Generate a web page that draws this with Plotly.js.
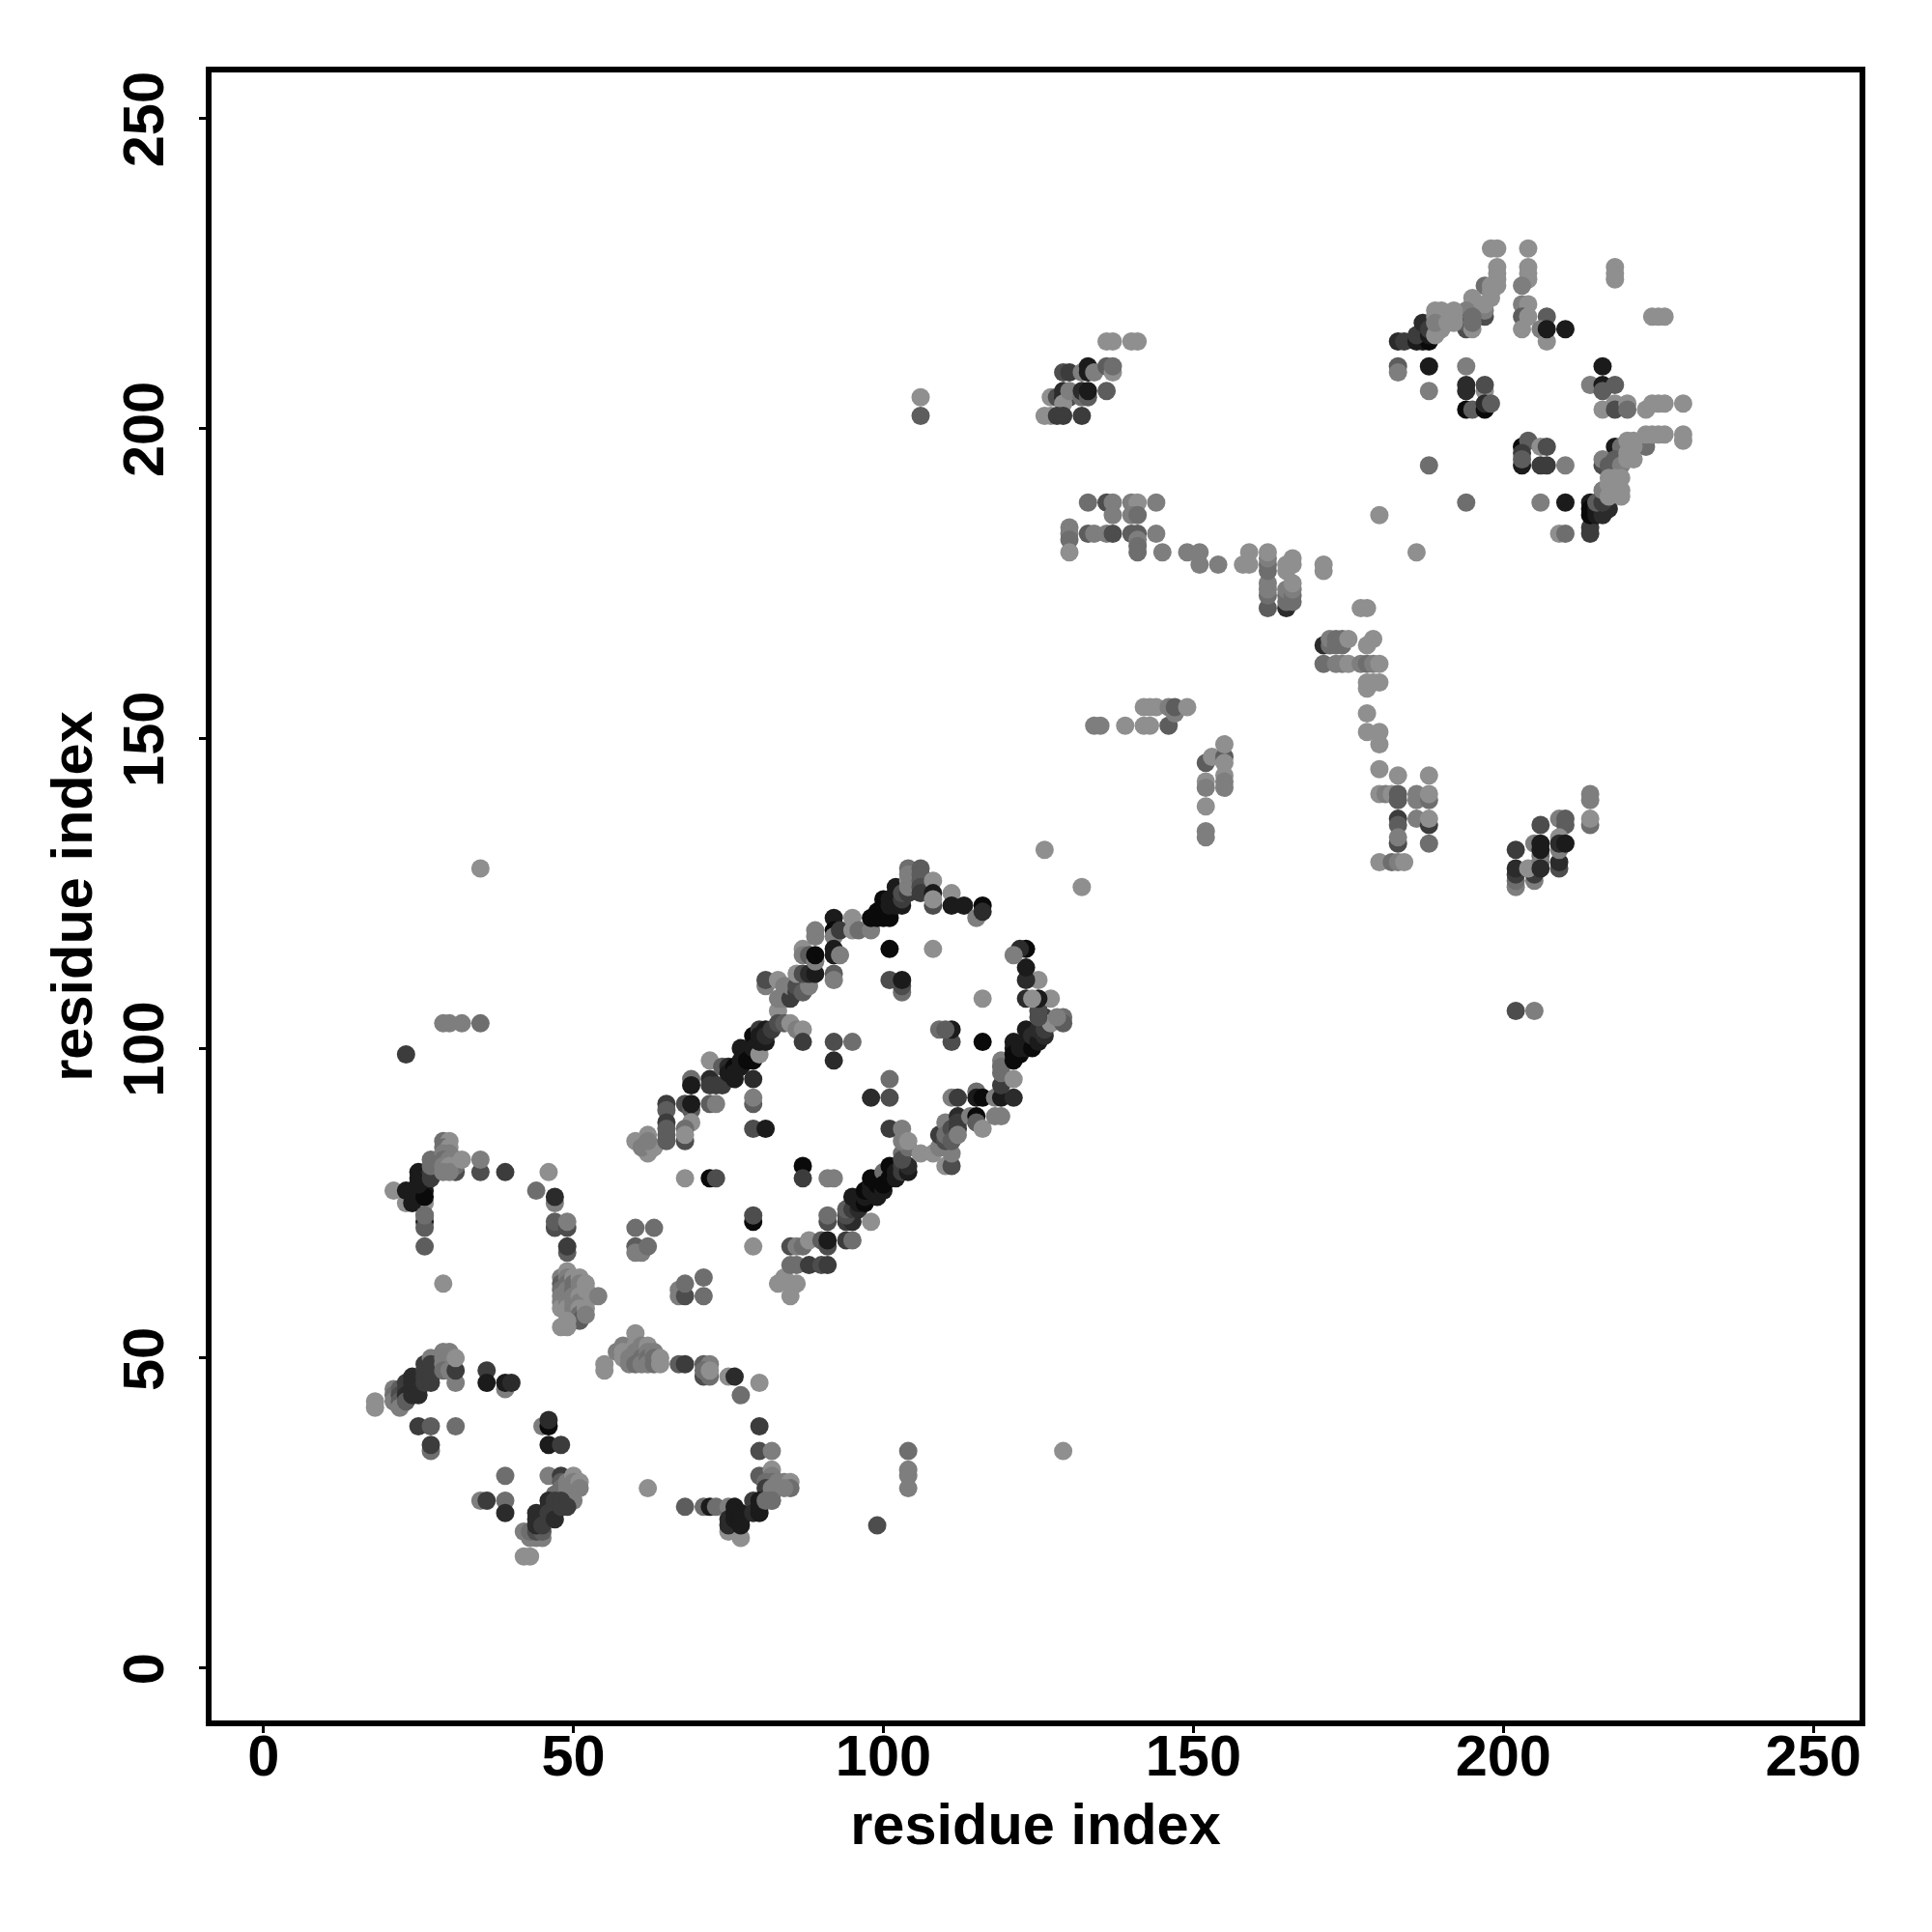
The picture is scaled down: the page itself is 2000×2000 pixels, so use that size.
<!DOCTYPE html>
<html>
<head>
<meta charset="utf-8">
<script src="https://cdn.plot.ly/plotly-3.0.1.min.js"></script>
<style>html,body{margin:0;padding:0;background:#fff}</style>
</head>
<body>
<div id="chart" style="width:2000px;height:2000px"></div>
<script>
// Each contact: [residue i, residue j, shade level 0 (darkest) .. 8 (lightest)]
const arcUpperLeft = [
[21,77,8],[23,75,8],[26,75,8],[24,75,1],[23,77,1],[24,77,1],[26,77,1],[26,76,0],[25,80,1],[25,79,1],[25,78,1],
[26,73,5],[26,72,1],[26,71,5],[26,73,6],[26,68,5],[27,79,3],[27,80,3],[27,82,6],[27,81,6],
[31,80,4],[31,81,6],[31,82,3],[29,85,6],[30,85,8],[29,84,6],[30,84,8],[29,83,7],[30,83,7],[29,82,6],[30,82,7],[29,81,7],[30,81,8],[29,80,7],[30,80,7],[32,82,8],
[35,80,4],[35,82,7],[39,80,3],[29,62,8],[46,80,8],[44,77,6],[47,75,7],[47,76,2],[47,71,4],[47,72,5],[49,71,4],[49,72,7],[49,67,5],[49,68,3]
];
const clusterFifty = [
[48,63,7],[48,62,5],[48,61,6],[48,60,7],[48,59,7],[48,58,8],[49,64,8],[49,63,7],[49,62,6],[49,61,7],[49,60,7],[49,59,7],[49,58,8],[49,57,8],[50,63,8],[50,62,6],[50,61,6],[50,60,7],[50,59,7],[50,58,7],[50,57,7],
[51,63,8],[51,62,7],[51,61,7],[51,60,8],[51,59,7],[51,58,8],[51,57,6],[51,56,5],[52,62,8],[52,61,8],[52,58,8],[52,57,7],[53,60,8],[54,60,7],[48,55,8],[49,55,8],[49,56,8]
];
const arcLowerLeft = [
[18,43,8],[18,42,8],[21,45,7],[21,44,6],[21,43,7],[22,45,5],[22,44,4],[22,43,5],[22,42,7],[23,46,3],[23,45,3],[23,44,2],[23,43,5],[24,47,2],[24,46,2],[24,45,2],[24,44,2],[25,45,2],[25,44,2],
[26,49,3],[26,48,3],[26,47,3],[26,46,3],[27,50,7],[27,49,3],[27,48,3],[27,47,3],[27,46,3],[29,51,7],[30,51,7],[29,50,7],[30,50,7],[29,49,7],[30,49,7],[29,48,6],[30,48,7],[31,46,7],[31,48,3],[31,50,8],
[36,48,3],[36,46,1],[39,45,7],[39,46,1],[40,46,2],[25,39,3],[27,39,5],[31,39,6],[27,35,6],[27,36,3],
[45,39,7],[46,39,0],[46,40,2],[46,36,1],[48,36,3],[39,31,6],[46,31,7],[48,31,3],[48,30,5],[47,28,6],[48,29,6],[49,30,7],[49,29,7],[50,31,8],[50,30,7],[50,29,7],[51,30,8],[51,29,7],[50,27,7],
[35,27,7],[36,27,3],[39,27,6],[39,25,2],[42,22,7],[42,18,8],[43,18,8],[43,21,7],[44,21,7],[45,21,7],[43,22,6],[44,22,4],[45,22,5],[44,23,2],[44,24,2],[44,25,2],[45,24,2],[45,23,3],[46,27,2],[46,26,2],[46,25,3],[47,27,3],[47,26,3],[47,25,3],[47,24,2],[48,27,3],[48,26,3],[49,26,3]
];
const arcLowerCentre = [
[55,49,8],[55,48,8],[57,51,7],[58,52,7],[58,51,8],[58,50,8],[59,50,7],[59,49,7],[60,54,8],[60,52,8],[60,51,7],[60,50,7],[60,49,6],[61,52,7],[61,51,7],[61,50,6],[61,49,7],[62,52,8],[62,51,7],[62,50,6],[62,49,7],[63,51,7],[63,50,6],[63,49,6],[64,50,8],[64,49,8],
[67,49,5],[68,49,3],[71,49,5],[72,49,7],[71,47,4],[72,47,6],[71,48,6],[72,48,8],[75,47,8],[76,47,2],[80,46,8],[77,44,6],[80,39,3],[80,35,4],[82,35,7],[80,31,5],[82,32,8],
[82,31,7],[82,30,6],[81,30,6],[81,29,3],[82,29,7],[82,28,7],[82,27,6],[83,30,7],[84,30,7],[85,30,8],[85,29,6],[84,29,7],[68,26,5],[62,29,8],
[71,26,6],[72,26,1],[73,26,6],[75,26,7],[75,22,8],[77,21,8],[75,23,2],[75,24,2],[76,24,1],[76,25,1],[76,26,1],[77,25,1],[77,24,1],[77,23,1],[79,27,3],[79,25,2],[80,25,1],[80,26,1],[80,27,1],[81,27,6],[82,27,6]
];
const leftScatter = [
[23,99,3],[29,104,7],[30,104,7],[32,104,7],[35,104,6],[35,129,8],[99,23,4],[104,35,6],[104,32,7],[104,31,7],[104,29,7],[129,35,8],[126,132,8],[132,126,8],[106,202,5],[106,205,8],[202,106,4],[205,106,7],
[60,71,6],[63,71,6],[60,68,5],[60,67,7],[61,67,7],[62,68,6],[67,61,7],[67,60,7],[68,60,4],[68,62,6],[71,63,6],[71,60,6],
[79,72,0],[79,73,4],[79,68,8],[68,79,8],[72,79,0],[73,79,4],[87,81,0],[87,79,3],[91,79,7],[92,79,7],[79,87,4],[81,87,1],[79,91,5],[79,92,7],
[92,101,4],[95,101,6],[92,98,2],[101,95,6],[98,92,2],[101,92,4],[101,87,3],[103,87,7],
[111,101,4],[111,103,1],[109,103,6],[110,103,5],[116,101,0],[116,108,8],[101,116,0],[108,116,8],[103,109,6],[103,110,4],[101,111,4],[103,111,1]
];
const strandBelow = [
[83,62,8],[84,63,8],[85,62,8],[86,62,8],[85,60,8],[85,65,6],[86,65,6],[88,65,3],[90,65,4],[91,65,3],
[85,68,4],[86,68,7],[87,68,6],[88,69,8],[90,69,5],[91,68,4],[91,69,1],[94,69,3],[95,69,6],
[91,72,4],[91,73,6],[94,72,3],[95,72,2],[94,73,4],[94,74,5],[95,74,3],[95,76,1],[96,74,2],[96,75,1],[97,75,0],[97,76,1],[97,77,0],[98,72,8],[98,77,1],[98,78,1],[98,79,0],[99,76,1],[99,78,0],[100,77,1],[100,80,6],[100,78,0],[101,79,0],[101,81,0],[102,79,1],[102,80,1],[103,81,3],[103,80,3],[104,80,1],[104,81,2],[103,83,6],[103,82,4],[104,84,6],[103,85,7],[104,85,8],
[106,83,8],[108,83,8],[109,84,7],[110,81,8],[110,84,7],[111,81,4],[111,83,7],[109,86,3],[110,85,4],[110,88,7],[110,86,6],[111,87,4],[111,85,5],[112,89,2],[112,88,3],[112,87,3],[112,86,7],[114,89,7],[115,89,0],[115,88,5],[116,87,8],[118,89,7],[119,89,7],
[111,92,7],[112,92,3],[115,93,6],[115,92,1],[116,92,0],[118,92,7],[119,92,1],[121,92,2],[119,94,3],[119,96,6],[119,98,7],[119,97,6],[121,95,8]
];
const strandRight = [
[121,101,1],[121,100,1],[121,99,0],[121,98,0],[122,99,0],[122,100,1],[123,103,1],[123,101,1],[123,100,1],[124,100,0],[124,102,2],[125,101,1],[125,103,2],[126,102,2],[126,103,3],[126,105,3],[127,104,8],[125,107,3],[125,105,4],[125,106,4],
[129,105,6],[129,104,5],[128,105,7],[127,108,8],[125,108,1],[123,108,2],[124,108,8],[125,111,8],[123,111,2],[123,113,1],[123,116,0],[122,116,2],[121,115,7]
];
const strandAbove = [
[60,85,8],[62,86,8],[62,83,8],[61,84,7],[63,84,8],[62,85,7],[65,91,3],[65,90,5],[65,88,3],[65,87,5],[65,86,5],[65,85,5],[68,91,4],[69,90,5],[69,91,1],[69,88,8],[68,87,6],[68,85,4],[68,86,8],
[72,91,5],[73,91,7],[69,95,6],[69,94,1],[72,95,2],[72,94,3],[73,94,3],[74,94,3],[72,98,8],[74,97,5],[75,97,2],[75,96,1],[76,95,1],[76,97,0],[76,96,1],[77,97,1],[77,100,1],[77,98,1],[78,98,0],[79,95,2],[79,98,0],[79,102,0],[79,100,1],[80,99,8],[80,103,3],[80,101,1],[80,102,1],[81,101,1],[81,103,1],[81,102,2],[82,103,3],
[83,106,8],[83,104,4],[84,104,5],[85,104,8],[86,103,7],[87,103,8],[87,101,3],[83,108,7],[81,110,7],[81,111,4],[83,111,8],[84,110,7],[84,108,7],[85,108,3],[85,110,7],[86,109,3],[86,110,4],[87,109,5],[88,110,7],[86,112,8],[87,112,4],[88,112,2],[89,112,1],[87,116,8],[87,115,7],[88,115,5],[89,114,7],[89,115,0],[89,119,7],[89,118,7],[92,112,5],[92,111,7],
[92,121,1],[92,119,0],[92,118,7],[93,119,3],[92,116,1],[92,115,1],[93,115,7],[95,121,8],[95,119,8],[96,119,6],[98,119,7],
[98,121,0],[99,121,0],[99,122,0],[100,123,0],[100,124,0],[100,121,0],[101,121,0],[101,123,1],[101,124,1],[102,126,1],[102,125,1],[102,123,1],[103,123,1],[103,124,3],[103,125,4],[104,129,6],[104,127,8],[104,128,7],[104,125,3],[104,126,7],[106,129,5],[106,128,5],[106,127,5],[106,126,4],[106,125,3],[108,127,8],[108,125,1],[108,123,4],[108,124,8],[111,125,8],[111,123,1],[113,123,1],[115,121,7],[116,123,0],[116,122,2]
];
const blockTwoHundredTen = [
[136,214,8],[137,214,8],[140,214,8],[141,214,8],[129,209,4],[130,209,3],[132,209,7],[133,210,1],[133,209,1],[134,209,7],[136,210,5],[137,209,8],[137,210,6],
[127,205,8],[128,205,4],[129,206,2],[129,205,2],[130,205,4],[129,204,8],[130,206,7],[132,205,6],[132,206,2],[133,205,5],[133,206,1],[136,206,5],
[126,202,8],[127,202,8],[128,202,3],[129,202,3],[132,202,3]
];
const bandOneEighty = [
[133,188,6],[136,188,4],[137,188,7],[137,186,7],[140,188,7],[141,188,8],[140,186,7],[141,186,6],[144,188,7],
[130,184,7],[130,183,7],[130,182,6],[130,180,8],[133,183,5],[134,183,7],[136,183,7],[137,183,4],[140,183,5],[141,183,5],[144,183,7],[141,182,7],[141,181,6],[141,180,6],[145,180,7],
[149,180,7],[151,180,7],[151,178,7],[154,178,7],[158,178,8],[159,178,8],[159,180,8],
[162,171,5],[162,173,6],[162,174,7],[162,175,7],[162,177,6],[162,178,6],[162,179,7],[162,180,8],
[165,171,2],[165,172,6],[165,173,6],[165,174,7],[166,172,6],[166,173,6],[166,174,7],[166,175,8],[165,177,8],[165,178,8],[166,178,8],[166,179,8],
[171,177,8],[171,178,8],[186,180,8],[180,186,8],[177,171,8],[178,171,8]
];
const bandOneSixty = [
[171,165,2],[172,165,6],[172,166,7],[173,165,6],[173,166,6],[174,165,6],[174,166,6],[175,166,8],[178,165,8],[179,166,8],
[171,162,6],[173,162,7],[174,162,7],[175,162,8],[177,162,7],[178,162,6],[179,162,7],[180,162,8],[178,159,8],[179,159,8],[180,159,8],[178,158,8],
[178,154,8],[178,151,8],[180,151,8],[180,149,8],[180,145,8],[183,144,8],[188,144,8],
[180,141,8],[181,141,7],[182,141,8],[183,140,5],[183,141,5],[186,140,7],[186,141,7],[188,140,6],[188,141,8],
[183,137,3],[183,136,5],[186,137,7],[188,136,3],[188,137,8],[183,133,4],[183,134,7],[188,133,6],
[180,130,8],[182,130,6],[183,130,7],[184,130,8]
];
const bandOneFifty = [
[134,152,7],[135,152,7],[139,152,8],[142,152,8],[143,152,8],[146,152,5],
[142,155,8],[143,155,8],[144,155,8],[146,155,7],[147,154,7],[147,155,5],[149,155,8],
[152,146,5],[153,147,8],[155,147,5],[155,149,8],[155,146,8],[155,144,8],[155,143,7],[155,142,7],[152,143,8],[152,142,7],[152,139,8],[152,135,7],[152,134,7]
];
const blockOneThirty = [
[214,141,7],[214,140,7],[214,136,6],[214,137,8],[206,136,4],[209,137,7],[210,136,5],[210,137,5],
[202,132,3],[202,126,7],[202,127,6],[202,128,3],[202,129,2],[205,127,7],[205,128,3],[205,129,3],[204,129,8],[205,133,7],[206,131,6],[206,130,7],[206,129,2],[206,132,1],[206,133,1],
[209,134,8],[209,129,4],[209,130,2],[209,132,7],[209,133,2],[210,133,1]
];
const squareUpperRight = [
[198,229,8],[199,229,8],[204,229,8],[199,226,8],[199,225,8],[199,224,8],[204,226,8],[204,225,8],[204,224,8],[203,223,7],[218,226,8],[218,225,8],[218,224,8],
[197,223,6],[198,223,8],[199,223,8],[198,222,8],[195,221,8],[198,221,8],[197,218,4],[197,219,7],[197,220,8],[195,220,8],[194,219,7],[194,216,4],[194,217,5],[195,216,8],[195,217,6],[195,218,6],
[203,220,7],[204,220,8],[203,218,5],[204,218,8],[203,216,8],[207,218,5],[206,216,7],[207,214,8],[207,216,1],[210,216,1],[224,218,8],[225,218,8],[226,218,8],
[183,214,2],[184,214,3],[186,214,1],[187,214,1],[188,214,0],[186,215,3],[187,216,3],[187,217,2],[188,215,1],[188,216,3],[189,215,8],[189,219,8],[190,219,8],[189,218,8],[190,218,8],[190,216,8],[189,217,7],[192,219,8],[192,218,8],[192,217,8],[191,217,8],
[183,210,5],[183,209,7],[188,210,1],[194,210,7],[188,206,7],[194,206,2],[194,207,2],[197,206,8],[197,207,4],[194,203,0],[195,203,5],[197,203,0],[197,204,2],[198,204,5],
[188,194,6],[194,188,6],
[203,197,0],[204,198,5],[203,196,3],[206,197,8],[207,197,4],[203,194,1],[203,195,5],[206,194,3],[207,194,3],[210,194,7],[206,188,7],[210,188,1],[209,183,8],[210,183,6],
[214,184,3],[214,183,3],[214,188,1],[214,187,0],[214,186,0],[215,186,1],[215,187,1],[216,186,2],[217,187,2],[215,188,5],[216,188,3],[216,190,7],
[216,210,1],[214,207,7],[216,207,1],[218,207,5],[216,206,5],[216,203,8],[218,204,8],[218,203,4],[220,204,8],[220,203,6],[223,203,8],[224,204,8],[225,204,8],[226,204,8],[229,204,8],
[229,199,8],[229,198,8],[223,197,6],[218,197,1],[219,197,6],[216,194,4],[216,195,7],[217,194,5],[218,195,5],[219,194,7],
[223,199,8],[224,199,8],[225,199,8],[226,199,8],[220,198,8],[221,198,8],[221,197,8],[220,196,8],[220,195,8],[221,195,8],
[217,192,8],[218,192,8],[219,192,8],[217,191,8],[218,190,8],[219,190,8],[219,189,8],[217,189,8]
];

const groups = [arcUpperLeft, clusterFifty, arcLowerLeft, arcLowerCentre, leftScatter, strandBelow, strandRight, strandAbove, blockTwoHundredTen, bandOneEighty, bandOneSixty, bandOneFifty, blockOneThirty, squareUpperRight];
const tickValues = [0, 50, 100, 150, 200, 250];
const axisLabel = 'residue index';

const contacts = groups.flat();
const axisBase = {
  showgrid: false, zeroline: false, showline: true, mirror: true,
  linecolor: '#000', linewidth: 6,
  ticks: 'outside', ticklen: 7, tickwidth: 3, tickcolor: '#000',
  tickmode: 'array', tickvals: tickValues, ticktext: tickValues.map(String),
  tickfont: {family: 'Liberation Sans', size: 59.5, color: '#000', weight: 'bold'}
};
const boldTitle = {family: 'Liberation Sans', size: 59.5, color: '#000', weight: 'bold'};
Plotly.newPlot('chart', [{
  type: 'scatter', mode: 'markers', hoverinfo: 'skip',
  x: contacts.map(c => c[0]), y: contacts.map(c => c[1]),
  marker: {size: 19, line: {width: 0}, color: contacts.map(c => c[2]), cmin: 0, cmax: 8,
           colorscale: [[0, '#0a0a0a'], [1, '#8f8f8f']], showscale: false}
}], {
  width: 2000, height: 2000, showlegend: false,
  paper_bgcolor: '#fff', plot_bgcolor: '#fff',
  margin: {l: 219, r: 75, t: 75, b: 219, pad: 0},
  xaxis: Object.assign({}, axisBase, {range: [-8.37, 257.45], tickangle: 0, ticklabelstandoff: -27,
    title: {text: axisLabel, font: boldTitle, standoff: 19}}),
  yaxis: Object.assign({}, axisBase, {range: [-8.46, 257.4], tickangle: -90, ticklabelstandoff: 13, ticklabelshift: 10,
    title: {text: axisLabel, font: boldTitle, standoff: 2}})
}, {displayModeBar: false, staticPlot: true});
</script>
</body>
</html>
